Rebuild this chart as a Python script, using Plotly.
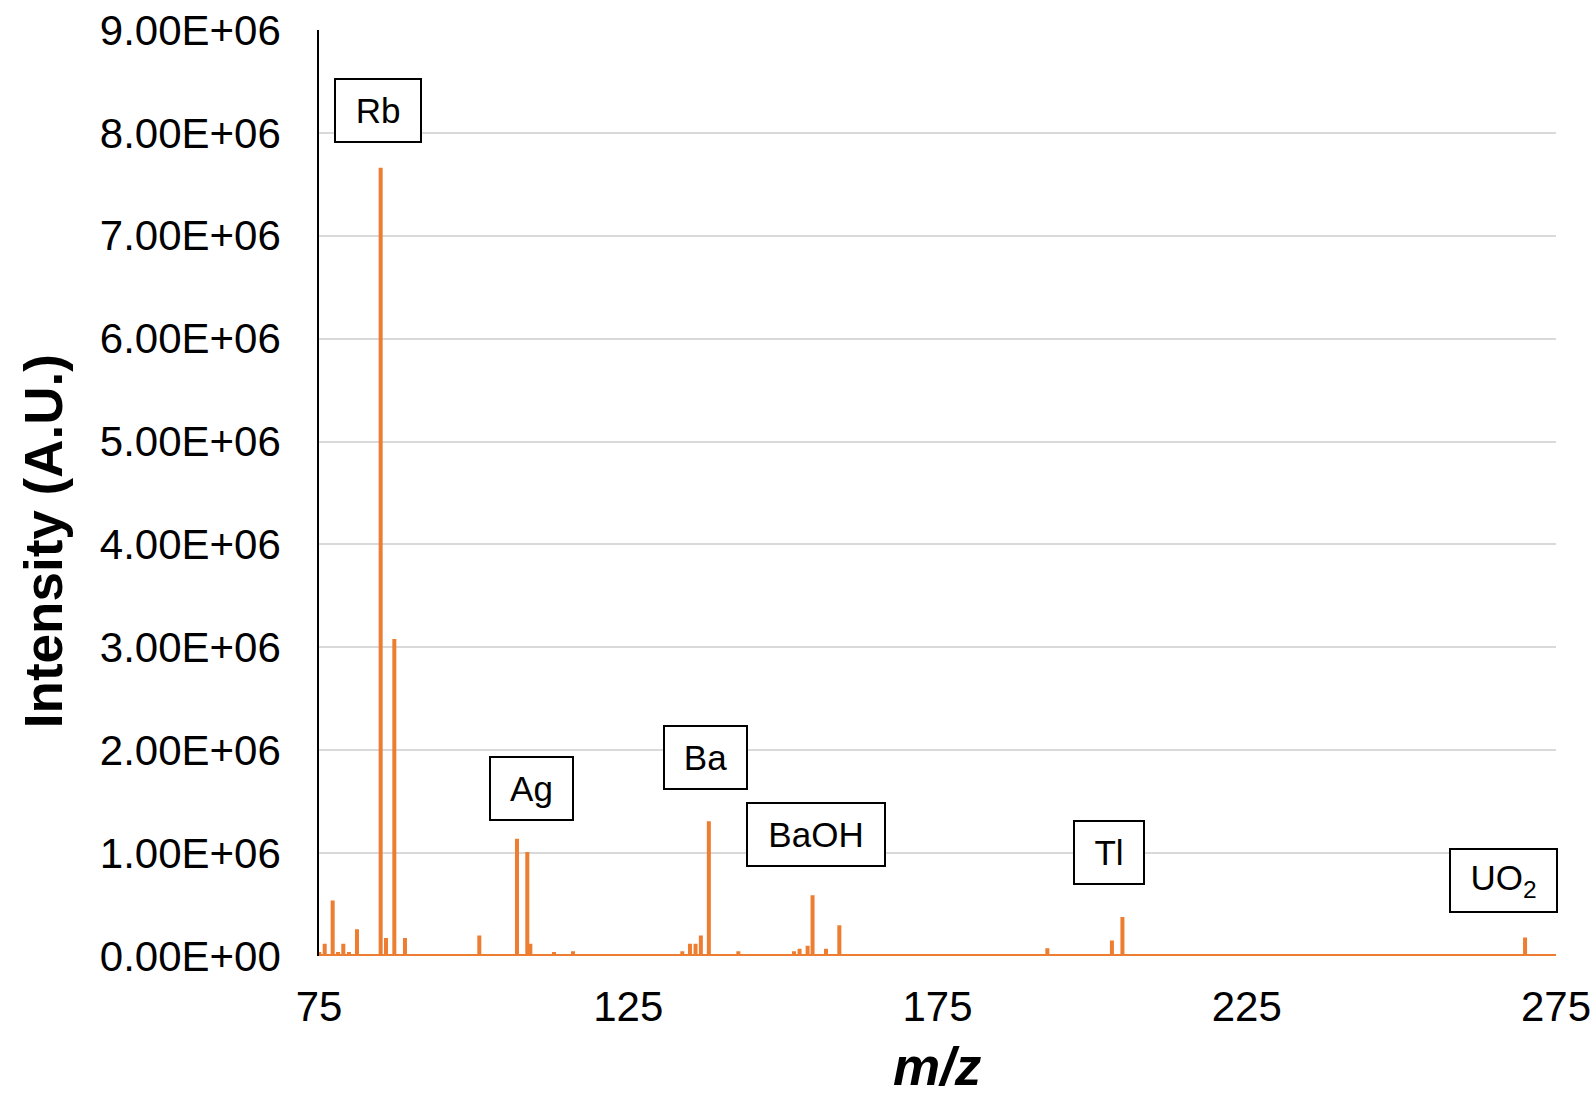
import plotly.graph_objects as go

# Peak positions (m/z) and intensities (A.U.)
peak_mz = [75.05, 75.92, 77.21, 78.07, 78.93, 79.85, 81.14, 81.9, 82.76, 84.97,
           85.83, 87.18, 87.93, 88.9, 94.83, 96.99, 100.92, 101.73, 107.01, 108.68,
           109.17, 109.98, 110.84, 112.13, 113.0, 113.8, 115.1, 116.07, 116.93, 119.9,
           121.13, 122.0, 125.12, 126.74, 131.88, 132.75, 133.74, 134.98, 135.88, 136.74,
           138.03, 140.1, 141.02, 142.8, 148.73, 150.88, 151.8, 152.7, 154.0, 154.8,
           156.97, 157.78, 159.13, 159.94, 160.75, 169.85, 170.66, 175.03, 188.8, 192.76,
           194.0, 203.2, 204.9, 236.7, 252.6, 270.0]
peak_int = [0.04e6, 0.12e6, 0.54e6, 0.04e6, 0.12e6, 0.04e6, 0.26e6, 0.012e6, 0.012e6, 7.66e6,
            0.175e6, 3.08e6, 0.02e6, 0.175e6, 0.012e6, 0.012e6, 0.20e6, 0.012e6, 1.14e6, 1.01e6,
            0.12e6, 0.02e6, 0.02e6, 0.012e6, 0.04e6, 0.012e6, 0.012e6, 0.045e6, 0.02e6, 0.012e6,
            0.012e6, 0.012e6, 0.02e6, 0.012e6, 0.012e6, 0.012e6, 0.045e6, 0.12e6, 0.12e6, 0.20e6,
            1.31e6, 0.012e6, 0.012e6, 0.045e6, 0.012e6, 0.012e6, 0.045e6, 0.07e6, 0.10e6, 0.59e6,
            0.07e6, 0.02e6, 0.30e6, 0.02e6, 0.02e6, 0.02e6, 0.02e6, 0.02e6, 0.02e6, 0.075e6,
            0.02e6, 0.15e6, 0.38e6, 0.02e6, 0.015e6, 0.18e6]

x_range = [75, 275]
x_ticks = [75, 125, 175, 225, 275]
y_ticks = [0, 1e6, 2e6, 3e6, 4e6, 5e6, 6e6, 7e6, 8e6, 9e6]
y_ticktext = ["0.00E+00", "1.00E+06", "2.00E+06", "3.00E+06", "4.00E+06",
              "5.00E+06", "6.00E+06", "7.00E+06", "8.00E+06", "9.00E+06"]

# Peak labels: text and box centre (paper coordinates)
labels = ["Rb", "Ag", "Ba", "BaOH", "Tl", "UO<sub>2</sub>"]
label_x = [0.0477, 0.1718, 0.3125, 0.4018, 0.6387, 0.9576]
label_y = [0.9136, 0.1809, 0.2144, 0.1312, 0.1123, 0.0815]
label_w = [84, 81, 81, 136, 68, 105]

# Build a stick spectrum from the peak list
xs = [x_range[0]]
ys = [0]
for m, h in zip(peak_mz, peak_int):
    xs += [m, m, m]
    ys += [0, h, 0]
xs.append(x_range[1])
ys.append(0)

FONT = "Liberation Sans, Arial, sans-serif"

fig = go.Figure()
fig.add_trace(go.Scatter(x=xs, y=ys, mode="lines",
                         line=dict(color="#ED7D31", width=4),
                         showlegend=False, hoverinfo="skip"))

annotations = []
for t, lx, ly, w in zip(labels, label_x, label_y, label_w):
    annotations.append(dict(text=t, x=lx, y=ly, xref="paper", yref="paper",
                            xanchor="center", yanchor="middle", showarrow=False,
                            font=dict(family=FONT, size=35, color="black"),
                            bordercolor="black", borderwidth=2, borderpad=0,
                            width=w, height=61, bgcolor="white"))

annotations.append(dict(text="<b>Intensity (A.U.)</b>", x=(43 - 319) / 1237, y=0.448,
                        xref="paper", yref="paper", xanchor="center", yanchor="middle",
                        textangle=-90, showarrow=False,
                        font=dict(family=FONT, size=53, color="black")))
annotations.append(dict(text="<b><i>m/z</i></b>", x=0.4996, y=-0.119,
                        xref="paper", yref="paper", xanchor="center", yanchor="middle",
                        showarrow=False,
                        font=dict(family=FONT, size=53, color="black")))

fig.update_layout(
    width=1596, height=1095,
    margin=dict(l=319, r=40, t=30, b=139),
    paper_bgcolor="white", plot_bgcolor="white",
    font=dict(family=FONT, size=42, color="black"),
    annotations=annotations,
    xaxis=dict(range=x_range, tickvals=x_ticks, showgrid=False, zeroline=False,
               showline=False, ticks="", ticklabelstandoff=22, automargin=False,
               tickfont=dict(family=FONT, size=42, color="black")),
    yaxis=dict(range=[0, 9e6], tickvals=y_ticks, ticktext=y_ticktext,
               showgrid=True, gridcolor="#d9d9d9", gridwidth=2, automargin=False,
               zeroline=False, showline=True, linecolor="black", linewidth=1.5,
               ticks="", ticklabelstandoff=28,
               tickfont=dict(family=FONT, size=42, color="black")),
)

fig.write_html("out.html")
